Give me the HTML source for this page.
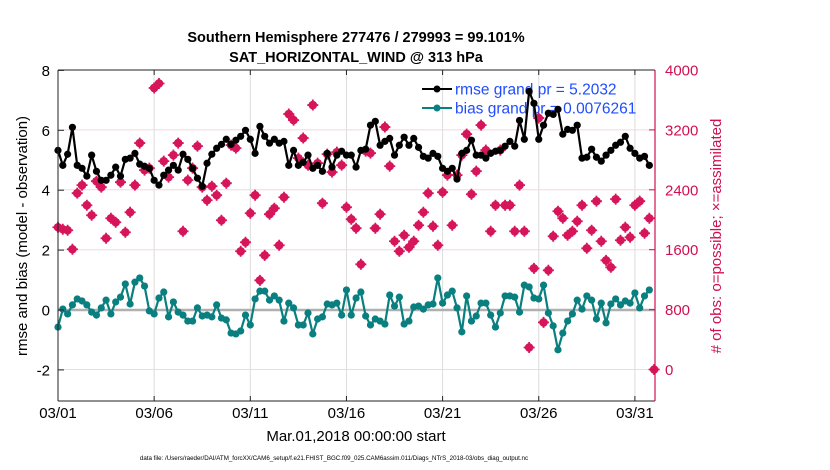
<!DOCTYPE html>
<html><head><meta charset="utf-8"><style>
body{margin:0;background:#fff;}
svg{display:block;font-family:"Liberation Sans",sans-serif;}
</style></head><body>
<svg id="chart" width="830" height="470" xmlns="http://www.w3.org/2000/svg">
<rect width="830" height="470" fill="#fff"/>
<g id="grid"></g>
<g id="legend">
 <g>
  <line x1="422" y1="89" x2="452" y2="89" stroke="#000" stroke-width="2"/><circle cx="437" cy="89" r="3.5" fill="#000"/>
  <text x="455" y="94.5" font-size="15.5" fill="#1f4cff">rmse grand pr = 5.2032</text>
 </g>
 <g>
  <line x1="422" y1="108" x2="452" y2="108" stroke="#0a7f7f" stroke-width="2"/><circle cx="437" cy="108" r="3.5" fill="#0a7f7f"/>
  <text x="455" y="113.5" font-size="15.5" fill="#1f4cff">bias grand pr = 0.0076261</text>
 </g>
</g>
<g id="marks"></g>
<g id="axes"></g>
<text x="356" y="42" font-size="14.5" font-weight="bold" text-anchor="middle">Southern Hemisphere 277476 / 279993 = 99.101%</text>
<text x="356" y="62" font-size="14.5" font-weight="bold" text-anchor="middle">SAT_HORIZONTAL_WIND @ 313 hPa</text>
<text x="356" y="441" font-size="15" text-anchor="middle">Mar.01,2018 00:00:00 start</text>
<text x="334" y="460" font-size="6.2" text-anchor="middle">data file: /Users/raeder/DAI/ATM_forcXX/CAM6_setup/f.e21.FHIST_BGC.f09_025.CAM6assim.011/Diags_NTrS_2018-03/obs_diag_output.nc</text>
<text transform="translate(27,236) rotate(-90)" font-size="15" text-anchor="middle">rmse and bias (model - observation)</text>
<text transform="translate(721,236) rotate(-90)" font-size="15" text-anchor="middle" fill="#d0104f"># of obs: o=possible; ×=assimilated</text>
</svg>
<script>
const rmseValues=[5.33,4.83,5.2,6.1,4.83,4.73,4.47,5.17,4.63,4.33,4.33,4.5,4.77,4.47,5.03,5.07,5.23,4.87,4.8,4.73,4.33,4.17,4.5,4.67,4.83,4.67,5.2,5.03,4.73,4.4,4.13,4.9,
5.2,5.4,5.53,5.7,5.53,5.67,5.8,6.0,5.7,5.23,6.13,5.8,5.57,5.7,5.57,5.63,4.83,5.33,4.83,4.93,5.17,4.73,4.83,4.63,5.23,4.77,5.17,5.3,5.17,5.17,4.77,
5.33,5.37,6.17,6.3,5.5,5.63,5.73,5.17,5.5,5.77,5.5,5.73,5.43,5.13,5.07,5.23,5.13,4.73,4.63,4.73,4.37,5.23,5.33,5.67,5.17,5.17,5.07,5.23,5.3,5.33,5.47,
5.63,5.47,6.33,5.7,7.3,6.9,5.7,6.17,6.57,6.53,6.7,5.87,6.03,6.0,6.17,5.07,5.1,5.37,5.1,4.97,5.17,5.33,5.5,5.6,5.8,5.4,5.23,5.07,5.13,4.83];
const biasValues=[-0.57,0.03,-0.13,0.17,0.37,0.3,0.17,-0.07,-0.17,0.07,0.33,-0.13,0.27,0.43,0.87,0.2,0.93,1.07,0.8,-0.03,-0.13,0.4,0.6,-0.23,0.27,-0.07,-0.17,-0.37,-0.37,0.07,-0.2,-0.17,
-0.23,0.17,-0.27,-0.33,-0.77,-0.8,-0.7,-0.17,-0.5,0.37,0.63,0.63,0.33,0.47,0.33,-0.37,0.23,0.07,-0.5,-0.5,-0.1,-0.8,-0.3,-0.23,0.2,0.17,0.23,-0.17,0.67,-0.17,0.4,
0.6,-0.2,-0.5,-0.3,-0.37,-0.47,0.5,0.13,0.43,-0.47,-0.37,0.1,0.13,0.03,0.17,0.2,1.07,0.23,0.5,0.63,0.07,-0.73,0.47,-0.37,-0.2,0.23,0.23,-0.17,-0.57,-0.1,0.47,
0.47,0.43,-0.07,0.83,0.77,0.4,0.37,0.83,-0.1,-0.53,-1.33,-0.77,-0.37,-0.13,0.33,0.03,0.47,0.33,-0.3,0.23,-0.43,0.2,0.37,0.17,0.3,0.23,0.57,0.07,0.47,0.67];
const obsSteps=[0,1,2,3,4,5,6,7,8,9,10,11,12,13,14,15,16,17,18,19,20,21,22,23,24,25,26,27,28,29,30,31,32,33,34,35,36,37,38,39,40,41,42,43,44,45,46,47,48,49,50,51,52,53,54,55,56,57,58,59,60,61,62,63,64,65,66,67,68,69,70,71,72,73,74,75,76,77,78,79,80,81,82,83,84,85,86,87,88,89,90,91,92,93,94,95,96,97,98,99,100,101,102,103,104,105,106,107,108,109,110,111,112,113,114,115,116,117,118,119,120,121,122,123,124];
const obsCounts=[1900,1873,1860,1606,2355,2462,2194,2060,2515,2435,1753,2020,1967,2502,1833,2100,2462,3024,2663,2689,3760,3820,2783,2569,2863,3024,1846,2529,2689,2983,2435,2261,2448,2328,1993,2488,2997,2957,1579,1699,2087,2328,1191,1525,2074,2154,1659,2301,3412,3331,2823,3091,2729,3532,2756,2221,2876,2636,2903,2729,2167,2007,1887,1405,2917,2890,1887,2074,3238,2716,1713,1579,1793,1632,1713,1927,2100,2355,1913,1659,2368,2596,1927,2596,2863,3144,2341,2649,3264,2930,1846,2194,2930,2194,2194,1846,2462,1846,294,1351,3358,629,1325,1780,2114,2020,1793,1846,1980,2194,1619,1860,2248,1713,1458,1365,2275,1726,1900,1766,2194,2248,1820,2020,0];
const leftTicks=[-2,0,2,4,6,8];
const rightTicks=[0,800,1600,2400,3200,4000];
const xTickDays=[0,5,10,15,20,25,30];
const xTickLabels=["03/01","03/06","03/11","03/16","03/21","03/26","03/31"];

const L=58,R=655,T=70,B=401;
const yL=v=>310-v*29.95;
const yR=v=>369.5-v*(299.5/4000);
const xDay=d=>L+d*19.23;
const xStep=i=>xDay(i*0.25);
const NS="http://www.w3.org/2000/svg";
function mk(parent,tag,attrs){const e=document.createElementNS(NS,tag);for(const k in attrs)e.setAttribute(k,attrs[k]);parent.appendChild(e);return e;}
const grid=document.getElementById('grid'),marks=document.getElementById('marks'),axes=document.getElementById('axes');

xTickDays.forEach((d,i)=>{
 const g=mk(grid,'line',{x1:xDay(d),x2:xDay(d),y1:T,y2:B,stroke:'#dcdcdc','stroke-width':1});
 
 
 const t=mk(axes,'text',{x:xDay(d),y:418,'font-size':15,'text-anchor':'middle'});
 t.textContent=xTickLabels[i];
 
 
 mk(axes,'line',{x1:xDay(d),x2:xDay(d),y1:T,y2:T+5,stroke:'#222'});
 mk(axes,'line',{x1:xDay(d),x2:xDay(d),y1:B,y2:B-5,stroke:'#222'});
});
rightTicks.forEach(v=>{
 const g=mk(grid,'line',{x1:L,x2:R,y1:yR(v),y2:yR(v),stroke:'#f0d8e0','stroke-width':1});
 
 
 const t=mk(axes,'text',{x:665,y:yR(v)+5.5,'font-size':15,fill:'#d0104f'});
 t.textContent=v;
 
 
 mk(axes,'line',{x1:R,x2:R-6,y1:yR(v),y2:yR(v),stroke:'#d0104f'});
});
const zl=mk(grid,'line',{x1:L,x2:R,y1:yL(0),y2:yL(0),stroke:'#b0b0b0','stroke-width':2.5});


leftTicks.forEach(v=>{
 const t=mk(axes,'text',{x:50,y:yL(v)+5.5,'font-size':15,'text-anchor':'end'});
 t.textContent=v;
 
 
 mk(axes,'line',{x1:L,x2:L+6,y1:yL(v),y2:yL(v),stroke:'#222'});
});
mk(axes,'line',{x1:L,x2:L,y1:T,y2:B,stroke:'#222'});
mk(axes,'line',{x1:L,x2:R,y1:T,y2:T,stroke:'#222'});
mk(axes,'line',{x1:L,x2:R,y1:B,y2:B,stroke:'#222'});
const ra=mk(axes,'line',{x1:R,x2:R,y1:T,y2:B,stroke:'#d0104f','stroke-width':1.2});



// obs markers
obsSteps.forEach((s,i)=>{
 const x=xStep(s),y=yR(obsCounts[i]);
 const g=mk(marks,'g',{});
 
 
 mk(g,'circle',{cx:x,cy:y,r:4.3,fill:'#d6155a'});
 mk(g,'path',{d:`M${x-5.5} ${y}H${x+5.5}M${x} ${y-5.5}V${y+5.5}`,stroke:'#d6155a','stroke-width':1.8});
});
function series(vals,color,name){
 const p=mk(marks,'polyline',{points:vals.map((v,i)=>xStep(i)+','+yL(v)).join(' '),fill:'none',stroke:color,'stroke-width':2.2,'stroke-linejoin':'round'});
 
 
 vals.forEach((v,i)=>{
  const c=mk(marks,'circle',{cx:xStep(i),cy:yL(v),r:3.6,fill:color});
  
  
 });
}
series(biasValues,'#0a7f7f','bias');
series(rmseValues,'#000','rmse');
</script>
</body></html>
